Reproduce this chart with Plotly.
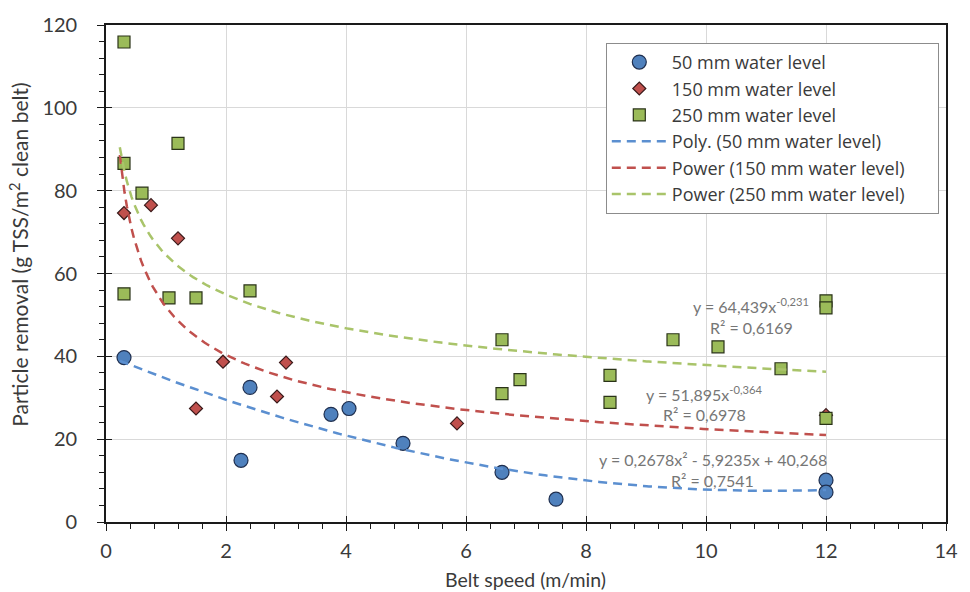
import numpy as np
import plotly.graph_objects as go

# Measured particle removal vs belt speed, three water levels
speed_50 = [0.3, 2.25, 2.4, 3.75, 4.05, 4.95, 6.6, 7.5, 12.0, 12.0]
removal_50 = [39.7, 14.9, 32.5, 26.0, 27.4, 19.0, 12.0, 5.5, 10.1, 7.2]

speed_150 = [0.3, 0.75, 1.2, 1.5, 1.95, 2.85, 3.0, 5.85, 12.0]
removal_150 = [74.6, 76.5, 68.5, 27.4, 38.7, 30.3, 38.5, 23.8, 25.8]

speed_250 = [0.3, 0.3, 0.6, 1.2, 0.3, 1.05, 1.5, 2.4, 6.6, 6.6, 6.9, 8.4, 8.4,
             9.45, 10.2, 11.25, 12.0, 12.0, 12.0]
removal_250 = [115.9, 86.6, 79.4, 91.4, 55.1, 54.1, 54.1, 55.8, 44.0, 31.0, 34.4,
               35.4, 28.9, 44.0, 42.3, 37.0, 53.4, 51.7, 25.0]

# Fitted trendline coefficients
poly_50 = [0.2678, -5.9235, 40.268]       # a*x^2 + b*x + c
power_150 = [51.895, -0.364]              # a*x^b
power_250 = [64.439, -0.231]
r2_values = [0.7541, 0.6978, 0.6169]

x_ticks = [0, 2, 4, 6, 8, 10, 12, 14]
y_ticks = [0, 20, 40, 60, 80, 100, 120]

names = ["50 mm water level", "150 mm water level", "250 mm water level",
         "Poly. (50 mm water level)", "Power (150 mm water level)",
         "Power (250 mm water level)"]

BLUE = "#4f81bd"
RED = "#c0504d"
GREEN = "#9bbb59"
FONT = "Lato"
TXT = "#3a3a3a"
INK = "#1a1a1a"
PAD = "\u00a0" * 6   # right-hand breathing room inside the legend box


def dec(v, fmt):
    return format(v, fmt).replace(".", ",")


xs = np.linspace(0.23, 12, 300)
y_poly = poly_50[0] * xs ** 2 + poly_50[1] * xs + poly_50[2]
y_p150 = power_150[0] * xs ** power_150[1]
y_p250 = power_250[0] * xs ** power_250[1]

fig = go.Figure()

fig.add_trace(go.Scatter(x=speed_50, y=removal_50, mode="markers", name=names[0] + PAD,
                         marker=dict(symbol="circle", size=14, color=BLUE,
                                     line=dict(color="#1f2f4f", width=1.2))))
fig.add_trace(go.Scatter(x=speed_150, y=removal_150, mode="markers", name=names[1] + PAD,
                         marker=dict(symbol="diamond", size=10, color=RED,
                                     line=dict(color="#3a1a1a", width=1.2))))
fig.add_trace(go.Scatter(x=speed_250, y=removal_250, mode="markers", name=names[2] + PAD,
                         marker=dict(symbol="square", size=12, color=GREEN,
                                     line=dict(color="#2a3318", width=1.2))))

dash = "9px,6px"
fig.add_trace(go.Scatter(x=xs, y=y_poly, mode="lines", name=names[3] + PAD,
                         line=dict(color="#5b8fd0", width=2.5, dash=dash)))
fig.add_trace(go.Scatter(x=xs, y=y_p150, mode="lines", name=names[4] + PAD,
                         line=dict(color=RED, width=2.5, dash=dash)))
fig.add_trace(go.Scatter(x=xs, y=y_p250, mode="lines", name=names[5] + PAD,
                         line=dict(color="#a9c46a", width=2.5, dash=dash)))

# Secondary overlay axes give the inward half of the crossing major ticks
fig.add_trace(go.Scatter(x=[None], y=[None], xaxis="x2", yaxis="y2",
                         showlegend=False, hoverinfo="skip"))

eq_font = dict(family=FONT, size=16, color="#767676")
labels = [
    (10.75, 52.2, "y = " + dec(power_250[0], ".3f") + "x<sup>" + dec(power_250[1], ".3f") + "</sup>"),
    (10.75, 46.9, "R² = " + dec(r2_values[2], ".4f")),
    (9.96, 31.0, "y = " + dec(power_150[0], ".3f") + "x<sup>" + dec(power_150[1], ".3f") + "</sup>"),
    (9.98, 26.0, "R² = " + dec(r2_values[1], ".4f")),
    (10.11, 15.2, "y = " + dec(poly_50[0], ".4f") + "x² - " + dec(-poly_50[1], ".4f")
     + "x + " + dec(poly_50[2], ".3f")),
    (10.11, 10.1, "R² = " + dec(r2_values[0], ".4f")),
]
for lx, ly, txt in labels:
    fig.add_annotation(x=lx, y=ly, text=txt, showarrow=False, font=eq_font,
                       xanchor="center", yanchor="middle")

# Axis titles
fig.add_annotation(x=0.4994, y=-0.116, xref="paper", yref="paper",
                   text="Belt speed (m/min)", showarrow=False,
                   xanchor="center", yanchor="middle",
                   font=dict(family=FONT, size=19.5, color=TXT))
fig.add_annotation(x=-0.104, y=0.537, xref="paper", yref="paper",
                   text="Particle removal (g TSS/m<sup>2</sup> clean belt)",
                   showarrow=False, textangle=-90,
                   xanchor="center", yanchor="middle",
                   font=dict(family=FONT, size=21, color=TXT))

axis_common = dict(showline=True, linecolor=INK, linewidth=1.6, mirror=True,
                   ticks="outside", ticklen=7, tickwidth=1.3, tickcolor=INK,
                   gridcolor="#d9d9d9", gridwidth=1.2, zeroline=False,
                   tickfont=dict(family=FONT, size=20, color=TXT))

fig.update_layout(
    width=970, height=592,
    margin=dict(l=106, r=15, t=23, b=70),
    paper_bgcolor="white", plot_bgcolor="white",
    showlegend=True,
    legend=dict(x=0.595, y=0.964, xanchor="left", yanchor="top",
                bgcolor="white", bordercolor="#8c8c8c", borderwidth=1,
                itemwidth=55,
                font=dict(family="Open Sans", size=18, color=TXT)),
    xaxis=dict(range=[0, 14], tickvals=x_ticks, ticklabelstandoff=3, **axis_common,
               minor=dict(dtick=0.4, tick0=0, ticks="outside", ticklen=5,
                          tickwidth=1.3, tickcolor=INK, showgrid=False)),
    yaxis=dict(range=[0, 120], tickvals=y_ticks, ticklabelstandoff=16, **axis_common,
               minor=dict(dtick=4, tick0=0, ticks="outside", ticklen=5,
                          tickwidth=1.3, tickcolor=INK, showgrid=False)),
    xaxis2=dict(range=[0, 14], overlaying="x", anchor="y2", side="bottom",
                tickvals=x_ticks, ticks="inside", ticklen=6, tickwidth=1.3,
                tickcolor=INK, showticklabels=False, showgrid=False,
                showline=False, zeroline=False),
    yaxis2=dict(range=[0, 120], overlaying="y", anchor="x2", side="left",
                tickvals=y_ticks, ticks="inside", ticklen=6, tickwidth=1.3,
                tickcolor=INK, showticklabels=False, showgrid=False,
                showline=False, zeroline=False),
)

fig.write_html("out.html")
